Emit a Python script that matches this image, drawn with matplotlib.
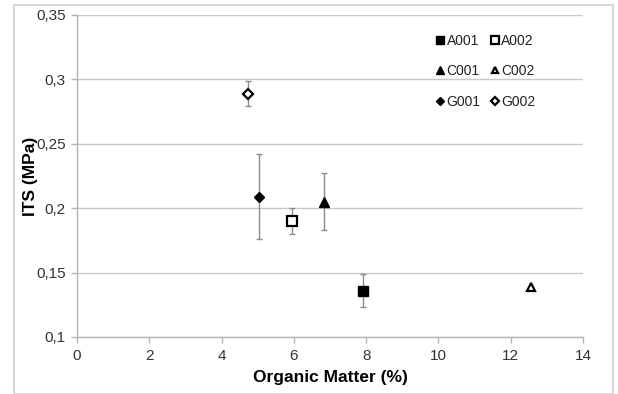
import matplotlib
matplotlib.use("Agg")
import matplotlib.pyplot as plt
from matplotlib.patches import Rectangle

plt.rcParams['font.family'] = ['Liberation Sans', 'DejaVu Sans']

names = ["A001", "A002", "C001", "C002", "G001", "G002"]
om = [7.9, 5.94, 6.83, 12.55, 5.03, 4.73]
its = [0.136, 0.190, 0.205, 0.139, 0.209, 0.289]
err = [0.013, 0.010, 0.022, 0.0, 0.033, 0.010]
markers = ["s", "s", "^", "^", "D", "D"]
filled = [True, False, True, False, True, False]
msizes = [7, 7, 7, 6, 5, 5]

yticks = [0.1, 0.15, 0.2, 0.25, 0.3, 0.35]
ytick_labels = ["0,1", "0,15", "0,2", "0,25", "0,3", "0,35"]
xticks = [0, 2, 4, 6, 8, 10, 12, 14]

fig = plt.figure(figsize=(6.18, 3.94), dpi=100)
ax = fig.add_axes([77/618, 1-337/394, (583-77)/618, (337-15)/394])

for n, x, y, e, m, f, ms in zip(names, om, its, err, markers, filled, msizes):
    if e > 0:
        ax.errorbar(x, y, yerr=e, fmt='none', ecolor='#8a8a8a', elinewidth=1.0,
                    capsize=2.5, capthick=1.0, zorder=2)
    ax.plot(x, y, linestyle='none', marker=m, markersize=ms,
            markerfacecolor='black' if f else 'white', markeredgecolor='black',
            markeredgewidth=1.6 if not f else 1.0, label=n, zorder=3)

ax.set_xlim(0, 14)
ax.set_ylim(0.1, 0.35)
ax.set_xticks(xticks)
ax.set_xticklabels([str(t) for t in xticks])
ax.set_yticks(yticks)
ax.set_yticklabels(ytick_labels)
ax.yaxis.grid(True, color='#c8c8c8', linewidth=1.0)
ax.set_axisbelow(True)
for s in ['top', 'right']:
    ax.spines[s].set_visible(False)
for s in ['left', 'bottom']:
    ax.spines[s].set_color('#b4b4b4')
    ax.spines[s].set_linewidth(1.0)
ax.tick_params(axis='both', colors='#b4b4b4', labelcolor='#333333',
               labelsize=11, length=4, width=1.0, direction='out')
ax.tick_params(axis='x', pad=5)
ax.tick_params(axis='y', pad=4)

ax.set_xlabel("Organic Matter (%)", fontsize=12.5, fontweight='bold', labelpad=5)
ax.set_ylabel("ITS (MPa)", fontsize=12.5, fontweight='bold', labelpad=-1)

handles, labels = ax.get_legend_handles_labels()
order = [0, 2, 4, 1, 3, 5]
leg = ax.legend([handles[i] for i in order], [labels[i] for i in order],
                ncol=2, loc='upper left', bbox_to_anchor=((437-77)/506, 0.942),
                frameon=False, fontsize=10, handlelength=0.5, handletextpad=0.2,
                columnspacing=0.75, labelspacing=1.2, markerscale=0.75,
                borderpad=0, borderaxespad=0)
for t in leg.get_texts():
    t.set_color('#222222')

fig.patches.append(Rectangle((14/618, 0), (613-14)/618, 1-5/394,
                             transform=fig.transFigure, fill=False,
                             edgecolor='#d0d0d0', linewidth=1.2, zorder=0))

fig.savefig("out.png", dpi=100)
